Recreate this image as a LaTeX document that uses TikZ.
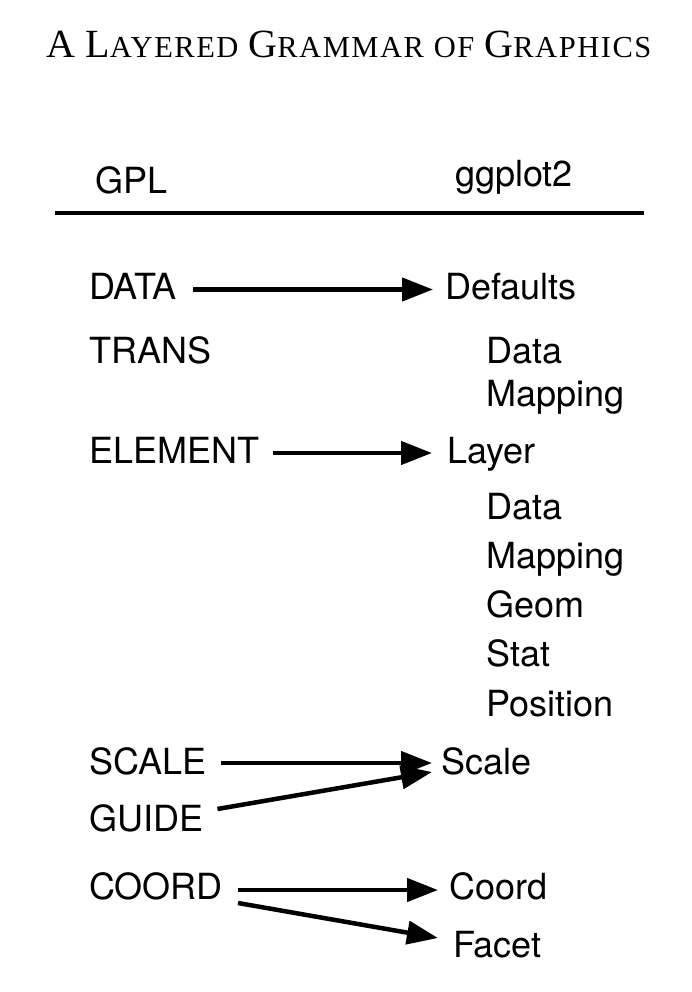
\documentclass[tikz,border=0pt]{standalone}
\usepackage{fontspec}
\setmainfont{TeX Gyre Heros}
\newfontfamily\titlefont{Liberation Serif}
\newfontfamily\titlesc[LetterSpace=5]{Liberation Serif}
\newcommand{\smc}[1]{{\titlesc\fontsize{30.5}{34}\selectfont #1}}
\usetikzlibrary{arrows.meta,calc}
\begin{document}
\begin{tikzpicture}[x=1pt,y=-1pt,
  lbl/.style={anchor=base west,inner sep=0pt,font=\fontsize{36}{40}\selectfont},
  conn/.style={line width=4.5pt,-{Triangle[length=31pt,width=23pt]}}]
\useasboundingbox (0,0) rectangle (692,992);
\node[anchor=base,inner sep=0pt] (title) at (349,58) {\titlefont\fontsize{40}{44}\selectfont A L\smc{AYERED} G\smc{RAMMAR} \smc{OF} G\smc{RAPHICS}};
\node[lbl] (gpl) at (95,194) {GPL};
\node[lbl] (ggp) at (455,187) {ggplot2};
\coordinate (rl) at (55,213);
\coordinate (rr) at (644,213);
\draw[line width=4.5pt] (rl) -- (rr);
\node[lbl] (data) at (89,299) {DATA};
\node[lbl] (defaults) at (445,299) {Defaults};
\node[lbl] (trans) at (89,363) {TRANS};
\node[lbl] (ddata) at (486,363) {Data};
\node[lbl] (dmap) at (486,406) {Mapping};
\node[lbl] (element) at (89,463) {ELEMENT};
\node[lbl] (layer) at (447,463) {Layer};
\node[lbl] (ldata) at (486,519) {Data};
\node[lbl] (lmap) at (486,568) {Mapping};
\node[lbl] (lgeom) at (486,617) {Geom};
\node[lbl] (lstat) at (486,666) {Stat};
\node[lbl] (lpos) at (486,716) {Position};
\node[lbl] (scale) at (89,774) {SCALE};
\node[lbl] (scaler) at (441,774) {Scale};
\node[lbl] (guide) at (89,831) {GUIDE};
\node[lbl] (coord) at (89,899) {COORD};
\node[lbl] (coordr) at (449,899) {Coord};
\node[lbl] (facet) at (453,957) {Facet};
\draw[conn] ($(data.base east)+(16,-9.5)$) -- ($(defaults.base west)+(-12,-9.5)$);
\draw[conn] ($(element.base east)+(14,-10)$) -- ($(layer.base west)+(-15,-10)$);
\draw[conn] ($(scale.base east)+(15,-11)$) -- ($(scaler.base west)+(-9,-11)$);
\draw[conn] ($(guide.base east)+(14,-22)$) -- ($(scaler.base west)+(-9,-2)$);
\draw[conn] ($(coord.base east)+(15,-9)$) -- ($(coordr.base west)+(-11,-9)$);
\draw[conn] ($(coord.base east)+(15,4)$) -- ($(facet.base west)+(-15,-19)$);
\end{tikzpicture}
\end{document}
